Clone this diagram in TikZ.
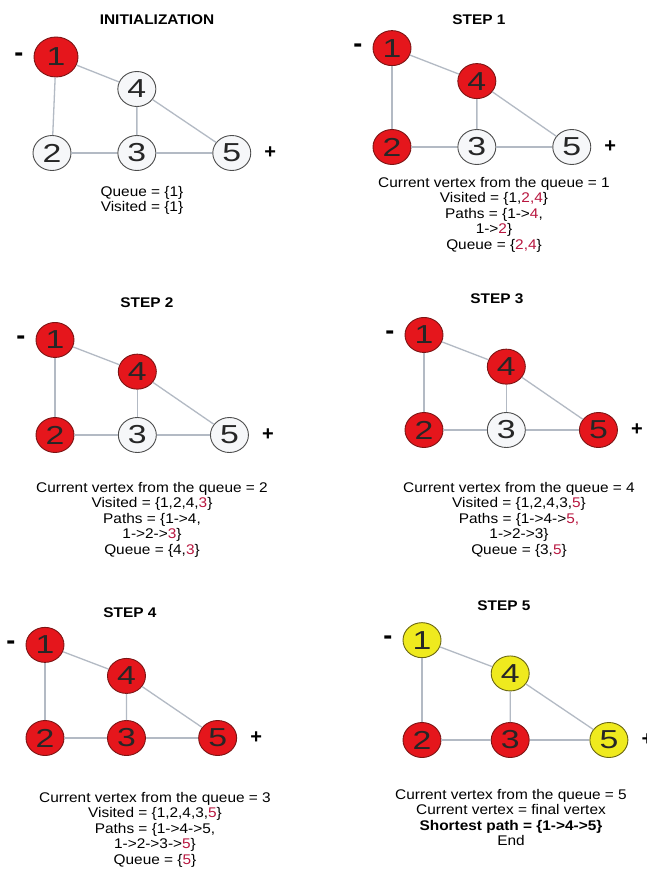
\documentclass[tikz,border=0pt]{standalone}
\usepackage{fontspec}
\setmainfont{Liberation Sans}
\newfontfamily\capfont{Liberation Sans}[FakeStretch=1.1]
\newfontfamily\digitfont{Liberation Sans}[FakeStretch=1.3]
\usetikzlibrary{positioning,shapes.geometric}
\definecolor{seenred}{HTML}{E5161C}
\definecolor{seenrim}{HTML}{7D1414}
\definecolor{pathyel}{HTML}{EFEA1E}
\definecolor{pathrim}{HTML}{6A6612}
\definecolor{openfill}{HTML}{F6F7F9}
\definecolor{openrim}{HTML}{4D4D4D}
\definecolor{linkgrey}{HTML}{B3BAC4}
\definecolor{newred}{HTML}{B8163F}
\tikzset{
  vtx/.style   ={ellipse, inner sep=0pt, minimum width=38pt, minimum height=35pt,
                 line width=0.9pt, text=black!85,
                 font=\digitfont\fontsize{26}{26}\selectfont},
  unseen/.style={vtx, draw=openrim, fill=openfill},
  seen/.style  ={vtx, draw=seenrim, fill=seenred},
  onpath/.style={vtx, draw=pathrim, fill=pathyel},
  big/.style   ={minimum width=44pt, minimum height=40pt, xshift=4pt},
  link/.style  ={draw=linkgrey, line width=1.3pt},
  sign/.style  ={inner sep=0pt, font=\bfseries\fontsize{20}{20}\selectfont},
  minus/.style ={sign, font=\bfseries\fontsize{27}{27}\selectfont},
  steptitle/.style={inner sep=0pt, anchor=base,
                 font=\capfont\bfseries\fontsize{14}{14}\selectfont},
  stepnote/.style={inner sep=0pt, anchor=north, align=center,
                 font=\capfont\fontsize{14}{15.5}\selectfont},
}
\newcommand{\nw}[1]{\textcolor{newred}{#1}}
\def\linklist{1/2, 1/4, 4/5, 4/3, 2/3, 3/5}
% one graph of the search; #1 prefix, #2..#6 look of vertex 1..5
\newcommand{\bfsgraph}[6]{%
  \node[#2] (#1v1) at (0,-96) {1};
  \node[#3] (#1v2) at (0,0)   {2};
  \node[#4] (#1v3) at (84,0)  {3};
  \node[#5] (#1v4) at (84,-64) {4};
  \node[#6] (#1v5) at (178,0) {5};
  \foreach \a/\b in \linklist {\draw[link] (#1v\a) -- (#1v\b);}
  \node[minus, left=10pt of #1v1] (#1minus) {-};
  \node[sign, right=13pt of #1v5] (#1plus) {+};}

\begin{document}
\begin{tikzpicture}[x=1pt, y=-1pt]
\path[use as bounding box, fill=white] (0,0) rectangle (647,869);
% --- initialization ---
\node[steptitle] (t0) at (157,25) {INITIALIZATION};
\begin{scope}[shift={(52,153)}, xscale=1.01]
  \bfsgraph{a}{seen,big}{unseen}{unseen}{unseen}{unseen}
\end{scope}
\node[stepnote] (c0) at (142,186) {Queue = \{1\}\\ Visited = \{1\}};
% --- step 1 ---
\node[steptitle] (t1) at (479,25) {STEP 1};
\begin{scope}[shift={(392,147)}, xscale=1.01, yscale=1.03]
  \bfsgraph{b}{seen}{seen}{unseen}{seen}{unseen}
\end{scope}
\node[stepnote] (c1) at (494,177) {Current vertex from the queue = 1\\
  Visited = \{1,\nw{2,4}\}\\ Paths = \{1->\nw{4},\\ 1->\nw{2}\}\\
  Queue = \{\nw{2,4}\}};
% --- step 2 ---
\node[steptitle] (t2) at (147,307) {STEP 2};
\begin{scope}[shift={(55,435)}, xscale=0.98, yscale=0.99]
  \bfsgraph{c}{seen}{seen}{unseen}{seen}{unseen}
\end{scope}
\node[stepnote] (c2) at (152,482) {Current vertex from the queue = 2\\
  Visited = \{1,2,4,\nw{3}\}\\ Paths = \{1->4,\\ 1->2->\nw{3}\}\\
  Queue = \{4,\nw{3}\}};
% --- step 3 ---
\node[steptitle] (t3) at (497,303) {STEP 3};
\begin{scope}[shift={(424,430)}, xscale=0.98, yscale=0.99]
  \bfsgraph{d}{seen}{seen}{unseen}{seen}{seen}
\end{scope}
\node[stepnote] (c3) at (519,482) {Current vertex from the queue = 4\\
  Visited = \{1,2,4,3,\nw{5}\}\\ Paths = \{1->4->\nw{5,}\\ 1->2->3\}\\
  Queue = \{3,\nw{5}\}};
% --- step 4 ---
\node[steptitle] (t4) at (130,617) {STEP 4};
\begin{scope}[shift={(45,738)}, xscale=0.97, yscale=0.97]
  \bfsgraph{e}{seen}{seen}{seen}{seen}{seen}
\end{scope}
\node[stepnote] (c4) at (155,792) {Current vertex from the queue = 3\\
  Visited = \{1,2,4,3,\nw{5}\}\\ Paths = \{1->4->5,\\ 1->2->3->\nw{5}\}\\
  Queue = \{\nw{5}\}};
% --- step 5 ---
\node[steptitle] (t5) at (504,610) {STEP 5};
\begin{scope}[shift={(422,740)}, xscale=1.05, yscale=1.04]
  \bfsgraph{f}{onpath}{seen}{seen}{onpath}{onpath}
\end{scope}
\node[stepnote] (c5) at (511,789) {Current vertex from the queue = 5\\
  Current vertex = final vertex\\ \textbf{Shortest path = \{1->4->5\}}\\ End};
\end{tikzpicture}
\end{document}
